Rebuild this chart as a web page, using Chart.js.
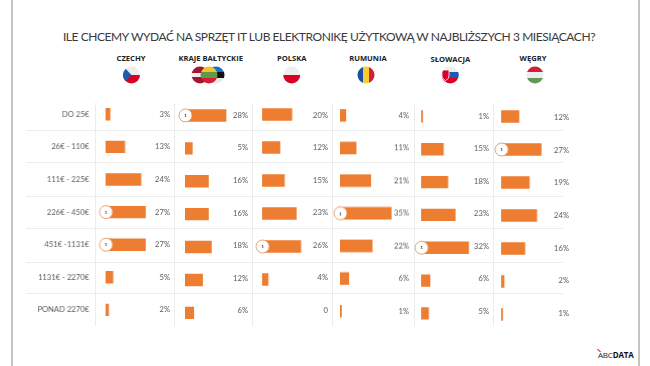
<!DOCTYPE html>
<html lang="pl">
<head>
<meta charset="utf-8">
<script src="https://cdn.jsdelivr.net/npm/chart.js@4"></script>
<style>
html,body{margin:0;padding:0;background:#fff;width:650px;height:366px;overflow:hidden}
body{position:relative;font-family:"Open Sans",sans-serif}
canvas{position:absolute}
.frame{position:absolute;top:0;height:366px;width:2px;background:#c4c4c4}
.h{position:absolute;left:26px;width:537px;height:1px;background:#ececec}
.v{position:absolute;top:103px;height:223px;width:1px;background:#ececec}
.title{position:absolute;left:0;width:658px;top:27px;text-align:center;font-family:Lato,sans-serif;font-size:12px;letter-spacing:-.43px;line-height:20px;color:#3a3a3a;white-space:nowrap;font-weight:400}
.country{position:absolute;transform:translateX(-50%);font-size:7.6px;line-height:10px;font-weight:700;color:#222;white-space:nowrap}
svg.flag{position:absolute}
.logo{position:absolute;left:598px;top:349px;font-size:8px;line-height:12px;color:#222;letter-spacing:-.2px;white-space:nowrap}
.logo b{font-weight:700;color:#111}
.logo i{position:absolute;left:-1px;top:1px;width:4px;height:1px;background:#c8202f;transform:rotate(40deg)}
</style>
</head>
<body>
<div class="frame" style="left:11px"></div>
<div class="frame" style="left:638px"></div>
<div class="title" id="title"></div>
<div id="grid"></div>
<svg class="flag" style="left:0;top:0" width="650" height="100" viewBox="0 0 650 100">
  <defs>
    <clipPath id="c0"><circle cx="131.5" cy="75" r="8.5"/></clipPath>
    <clipPath id="c1a"><circle cx="200" cy="75" r="8.5"/></clipPath>
    <clipPath id="c1b"><circle cx="209" cy="75" r="8.5"/></clipPath>
    <clipPath id="c1c"><circle cx="216" cy="75" r="8.5"/></clipPath>
    <clipPath id="c2"><circle cx="291.7" cy="75" r="8.5"/></clipPath>
    <clipPath id="c3"><circle cx="366" cy="75" r="8.5"/></clipPath>
    <clipPath id="c4"><circle cx="450.3" cy="75" r="8.5"/></clipPath>
    <clipPath id="c5"><circle cx="535" cy="75" r="8.5"/></clipPath>
  </defs>
  <g clip-path="url(#c0)"><rect x="120" y="66" width="24" height="9" fill="#eeeeee"/><rect x="120" y="75" width="24" height="9" fill="#d80027"/><path d="M123 66 L131.5 75 L123 84 Z" fill="#1c5bb0"/></g>
  <g clip-path="url(#c1c)"><rect x="205" y="66" width="24" height="6" fill="#1d6fc2"/><rect x="205" y="72" width="24" height="6" fill="#111"/><rect x="205" y="78" width="24" height="7" fill="#e8e8e8"/></g>
  <g clip-path="url(#c1a)"><rect x="190" y="66" width="24" height="7" fill="#a2162e"/><rect x="190" y="73" width="24" height="4" fill="#eee"/><rect x="190" y="77" width="24" height="8" fill="#a2162e"/></g>
  <g clip-path="url(#c1b)"><rect x="198" y="66" width="24" height="6" fill="#f2c230"/><rect x="198" y="72" width="24" height="6" fill="#5f9a45"/><rect x="198" y="78" width="24" height="7" fill="#d01f36"/></g>
  <g clip-path="url(#c2)"><rect x="280" y="66" width="24" height="9" fill="#eeeeee"/><rect x="280" y="75" width="24" height="9" fill="#d80027"/></g>
  <g clip-path="url(#c3)"><rect x="357" y="66" width="6" height="18" fill="#1c4fa8"/><rect x="363" y="66" width="6" height="18" fill="#f6cf2e"/><rect x="369" y="66" width="6" height="18" fill="#d01f36"/></g>
  <g clip-path="url(#c4)"><rect x="440" y="66" width="24" height="6" fill="#eeeeee"/><rect x="440" y="72" width="24" height="6" fill="#1c5bb0"/><rect x="440" y="78" width="24" height="7" fill="#d80027"/><path d="M442 70 h7 v6 q0 3 -3.5 4.5 q-3.5 -1.5 -3.5 -4.5 Z" fill="#d80027" stroke="#fff" stroke-width=".8"/></g>
  <g clip-path="url(#c5)"><rect x="525" y="66" width="24" height="6" fill="#d01f36"/><rect x="525" y="72" width="24" height="6" fill="#eeeeee"/><rect x="525" y="78" width="24" height="7" fill="#5f9a55"/></g>
</svg>
<div class="logo"><i></i>ABC<b>DATA</b></div>

<script>
const titleText = "ILE CHCEMY WYDAĆ NA SPRZĘT IT LUB ELEKTRONIKĘ UŻYTKOWĄ W NAJBLIŻSZYCH 3 MIESIĄCACH?";
const categories = ["DO 25€", "26€ - 110€", "111€ - 225€", "226€ - 450€", "451€ -1131€", "1131€ - 2270€", "PONAD 2270€"];
const countries = ["CZECHY", "KRAJE BAŁTYCKIE", "POLSKA", "RUMUNIA", "SŁOWACJA", "WĘGRY"];
const czechy = [3, 13, 24, 27, 27, 5, 2];
const krajeBaltyckie = [28, 5, 16, 16, 18, 12, 6];
const polska = [20, 12, 15, 23, 26, 4, 0];
const rumunia = [4, 11, 21, 35, 22, 6, 1];
const slowacja = [1, 15, 18, 23, 32, 6, 5];
const wegry = [12, 27, 19, 24, 16, 2, 1];

const seriesList = [czechy, krajeBaltyckie, polska, rumunia, slowacja, wegry];

// Layout only: bar start, label right edge, row centres for bars and labels
const panels = [
  { start: 105,   right: 168.5, y0: 114,   step: 32.6,  ly0: 114,   lstep: 32.6,  cx: 131,   cy: 58 },
  { start: 184.7, right: 248,   y0: 115,   step: 32.9,  ly0: 115,   lstep: 32.55, cx: 210.7, cy: 58 },
  { start: 262.3, right: 327,   y0: 114.7, step: 33,    ly0: 115.7, lstep: 32.5,  cx: 291.7, cy: 58 },
  { start: 339.7, right: 409,   y0: 115.3, step: 32.5,  ly0: 115.3, lstep: 32.5,  cx: 368,   cy: 58 },
  { start: 421.3, right: 488,   y0: 116,   step: 32.83, ly0: 116,   lstep: 32.5,  cx: 450.3, cy: 59 },
  { start: 501.3, right: 568.7, y0: 116.3, step: 33,    ly0: 117.7, lstep: 32.55, cx: 533,   cy: 58 }
];
const PX_PER_PERCENT = 1.465;
const FONT = 'Lato, sans-serif';
const PAD = 8;

document.getElementById("title").textContent = titleText;
const grid = document.getElementById("grid");
[129.5, 161.5, 196, 227.5, 261.5, 292.5].forEach(y => {
  const d = document.createElement("div"); d.className = "h"; d.style.top = y + "px"; grid.appendChild(d);
});
[94.5, 173.5, 252, 331.5, 414, 493].forEach(x => {
  const d = document.createElement("div"); d.className = "v"; d.style.left = x + "px"; grid.appendChild(d);
});

const labelPlugin = {
  id: "valueLabels",
  afterDatasetsDraw(chart, args, opts) {
    const { ctx } = chart;
    const p = opts.panel;
    const values = chart.data.datasets[0].data;
    const top = Math.max(...values);
    const meta = chart.getDatasetMeta(0);
    const x0 = chart.scales.x.getPixelForValue(0);
    const canvasTop = chart.canvas.getBoundingClientRect().top;
    ctx.save();
    values.forEach((v, i) => {
      const y = p.ly0 + i * p.lstep - canvasTop;
      ctx.font = "7.6px " + FONT;
      ctx.fillStyle = "#595959";
      ctx.textAlign = "right";
      ctx.textBaseline = "middle";
      ctx.fillText(v === 0 ? "0" : v + "%", chart.canvas.clientWidth - 1, y);
      if (v === top) {
        const by = meta.data[i].y;
        ctx.beginPath();
        ctx.arc(x0 + 0.5, by, 6.5, 0, Math.PI * 2);
        ctx.fillStyle = "#fff";
        ctx.fill();
        ctx.lineWidth = 0.9;
        ctx.strokeStyle = "#e59a62";
        ctx.stroke();
        ctx.font = "bold 4.5px " + FONT;
        ctx.fillStyle = "#333";
        ctx.textAlign = "center";
        ctx.fillText("1", x0 + 0.5, by + 0.3);
      }
    });
    ctx.restore();
  }
};

countries.forEach((name, idx) => {
  const p = panels[idx];
  const head = document.createElement("div");
  head.className = "country";
  head.textContent = name;
  head.style.left = p.cx + "px";
  head.style.top = (p.cy - 5) + "px";
  document.body.appendChild(head);

  const axisW = idx === 0 ? p.start - 26 : PAD;
  const left = p.start - axisW;
  const plotW = p.right + 1 - p.start;
  const c = document.createElement("canvas");
  const top = p.y0 - p.step / 2 - 6;
  const h = p.step * 7 + 12;
  const box = document.createElement("div");
  box.style.cssText = `position:absolute;left:${left}px;top:${top}px;width:${axisW + plotW}px;height:${h}px`;
  box.appendChild(c);
  document.body.appendChild(box);

  new Chart(c, {
    type: "bar",
    data: {
      labels: categories,
      datasets: [{
        data: seriesList[idx],
        backgroundColor: seriesList[idx].map(v => v === 0 ? "rgba(0,0,0,0)" : "#ed7d31"),
        borderWidth: 0,
        barThickness: 11.7
      }]
    },
    options: {
      indexAxis: "y",
      responsive: true,
      maintainAspectRatio: false,
      animation: false,
      layout: { padding: { top: 6, bottom: 6, left: idx === 0 ? 0 : PAD, right: 0 } },
      plugins: {
        legend: { display: false },
        tooltip: { enabled: false },
        valueLabels: { panel: p }
      },
      scales: {
        x: { type: "linear", display: false, min: 0, max: plotW / PX_PER_PERCENT },
        y: {
          type: "category",
          display: idx === 0,
          border: { display: false },
          grid: { display: false, drawTicks: true, tickLength: 16.3 },
          afterFit: s => { if (idx === 0) s.width = axisW; },
          ticks: { padding: 0, font: { family: FONT, size: 7.6 }, color: "#595959", autoSkip: false }
        }
      }
    },
    plugins: [labelPlugin]
  });
});
</script>
</body>
</html>
